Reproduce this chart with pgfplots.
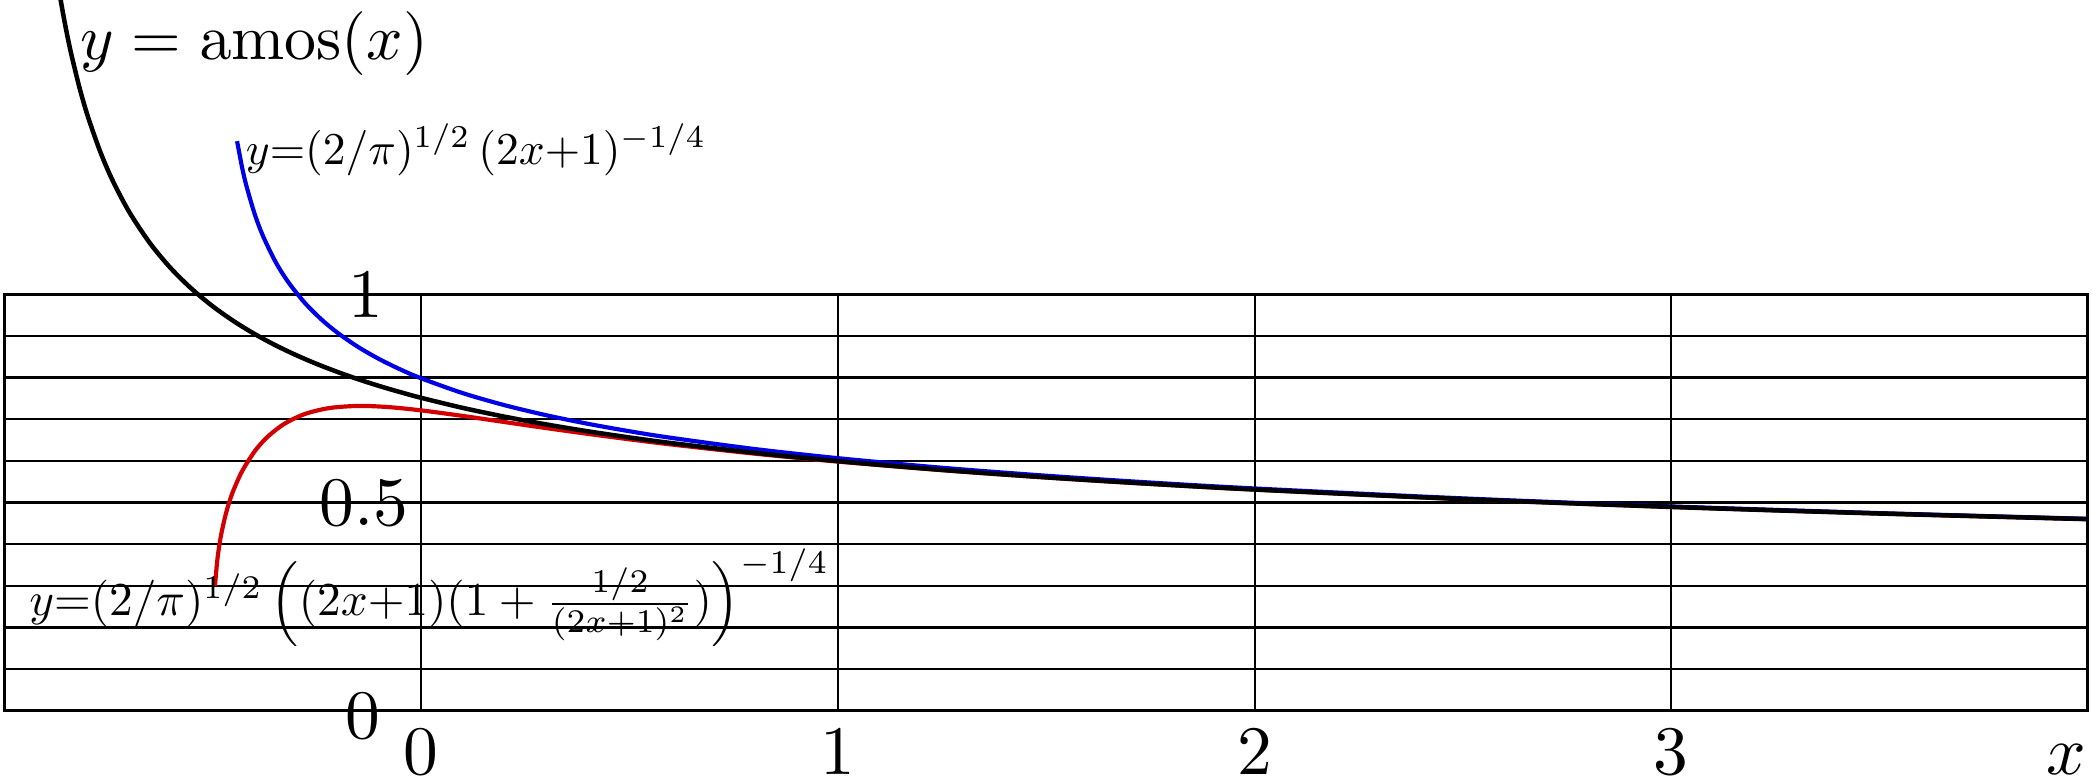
\documentclass[border=0pt]{standalone}
\usepackage{graphicx}
\usepackage{pgfplots}
\pgfplotsset{compat=1.18}
\definecolor{cblue}{RGB}{0,0,230}
\definecolor{cred}{RGB}{210,0,0}
\begin{document}
\begin{tikzpicture}
\begin{axis}[
  x=60pt, y=60pt,
  xmin=-1, xmax=4, ymin=0, ymax=1,
  clip=false,
  axis line style={line width=0.45pt},
  xtick={0,1,2,3},
  xticklabels={$0$,$1$,$2$,$3$},
  xticklabel style={anchor=base, yshift=-9.2pt, inner sep=0pt, font=\fontsize{10}{12}\selectfont},
  ytick={0.1,0.2,0.3,0.4,0.5,0.6,0.7,0.8,0.9},
  yticklabels={},
  major tick length=0pt,
  grid=major,
  grid style={black, line width=0.3pt},
]
\addplot[cred, line width=0.6pt, smooth] coordinates {
(-0.495,0.3000) (-0.49,0.3568) (-0.485,0.3947) (-0.48,0.4240) (-0.47,0.4688)
(-0.46,0.5030) (-0.45,0.5309) (-0.43,0.5749) (-0.40,0.6225) (-0.37,0.6564)
(-0.33,0.6878) (-0.28,0.7121) (-0.22,0.7267) (-0.15,0.7317) (-0.08,0.7290)
(0,0.7210) (0.1,0.7076) (0.2,0.6930) (0.3,0.6785) (0.4,0.6646) (0.5,0.6515)
(0.6,0.6392) (0.8,0.6172) (1.0,0.5981) (1.25,0.5775) (1.5,0.5599) (1.75,0.5445)
(2,0.5309) (2.5,0.5080) (3,0.4893) (3.5,0.4735) (4,0.4600)
};
\addplot[cblue, line width=0.6pt, smooth] coordinates {
(-0.442,1.3672) (-0.43,1.3044) (-0.42,1.2615) (-0.40,1.1931) (-0.38,1.1400)
(-0.35,1.0781) (-0.32,1.0301) (-0.28,0.9797) (-0.24,0.9396) (-0.2,0.9066)
(-0.15,0.8723) (-0.1,0.8437) (-0.05,0.8192) (0,0.7979) (0.1,0.7623) (0.2,0.7335)
(0.3,0.7094) (0.4,0.6888) (0.5,0.6709) (0.6,0.6551) (0.8,0.6283) (1.0,0.6063)
(1.25,0.5833) (1.5,0.5642) (1.75,0.5478) (2,0.5336) (2.5,0.5098) (3,0.4905)
(3.5,0.4744) (4,0.4607)
};
\addplot[black, line width=0.65pt, smooth] coordinates {
(-0.875,1.7650) (-0.87,1.7333) (-0.86,1.6752) (-0.85,1.6232) (-0.84,1.5763)
(-0.82,1.4947) (-0.80,1.4260) (-0.77,1.3408) (-0.74,1.2712) (-0.70,1.1958)
(-0.65,1.1209) (-0.60,1.0610) (-0.55,1.0118) (-0.50,0.9705) (-0.45,0.9351)
(-0.40,0.9044) (-0.35,0.8774) (-0.30,0.8535) (-0.25,0.8321) (-0.20,0.8129)
(-0.15,0.7953) (-0.10,0.7793) (-0.05,0.7647) (0,0.7511) (0.1,0.7269)
(0.2,0.7059) (0.3,0.6873) (0.4,0.6708) (0.5,0.6560) (0.6,0.6426) (0.8,0.6192)
(1.0,0.5993) (1.25,0.5782) (1.5,0.5603) (1.75,0.5448) (2,0.5311) (2.5,0.5081)
(3,0.4893) (3.5,0.4735) (4,0.4600)
};
\node[anchor=center, inner sep=0pt, font=\fontsize{10}{12}\selectfont] at (axis cs:-0.133,0.997) {$1$};
\node[anchor=center, inner sep=0pt, font=\fontsize{10}{12}\selectfont] at (axis cs:-0.138,0.499) {$0.5$};
\node[anchor=center, inner sep=0pt, font=\fontsize{10}{12}\selectfont] at (axis cs:-0.140,-0.013) {$0$};
\node[anchor=base east, inner sep=0pt, font=\fontsize{10}{12}\selectfont] at (axis cs:4,0) [yshift=-9.2pt] {$x$};
\node[anchor=base west, inner sep=0pt] at (axis cs:-0.821,1.562) {\scalebox{0.92}{$y=\mathrm{amos}(x)$}};
\node[anchor=base west, inner sep=0pt] at (axis cs:-0.424,1.312) {\scalebox{0.655}{$y{=}(2/\pi)^{1/2}\,(2x{+}1)^{-1/4}$}};
\node[anchor=base west, inner sep=0pt] at (axis cs:-0.944,0.228) {\scalebox{0.68}{$y{=}(2/\pi)^{1/2}\,\Bigl((2x{+}1)(1+\frac{1/2}{(2x{+}1)^2})\Bigr)^{-1/4}$}};
\coordinate (bbsw) at (axis cs:-1.011,-0.169);
\coordinate (bbne) at (axis cs:4.010,1.706);
\end{axis}
\pgfresetboundingbox
\useasboundingbox (bbsw) rectangle (bbne);
\end{tikzpicture}
\end{document}
